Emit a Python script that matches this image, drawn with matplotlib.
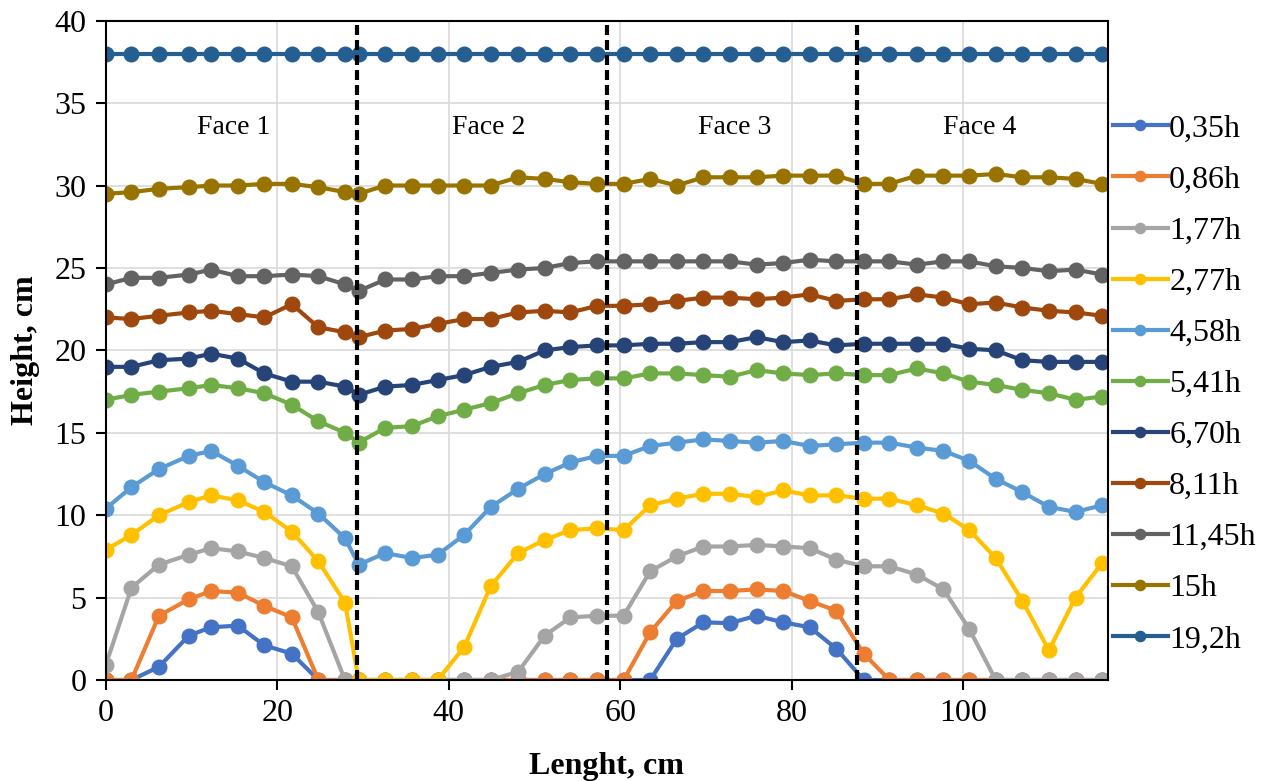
import matplotlib.pyplot as plt

# Positions along the perimeter (cm)
length_cm = [0, 3.0, 6.2, 9.7, 12.3, 15.4, 18.5, 21.7, 24.8, 27.9, 29.5,
             32.6, 35.7, 38.7, 41.8, 44.9, 48.1, 51.2, 54.2, 57.3,
             60.4, 63.5, 66.6, 69.7, 72.8, 75.9, 79.0, 82.1, 85.2,
             88.4, 91.4, 94.6, 97.7, 100.7, 103.8, 106.9, 110.0, 113.1, 116.2]

# Heights (cm) for each time
h_035 = [0, 0, 0.8, 2.7, 3.2, 3.3, 2.1, 1.6, 0, 0, 0,
         0, 0, 0, 0, 0, 0, 0, 0, 0,
         0, 0, 2.5, 3.5, 3.45, 3.9, 3.5, 3.2, 1.9,
         0, 0, 0, 0, 0, 0, 0, 0, 0, 0]
h_086 = [0, 0, 3.9, 4.9, 5.4, 5.3, 4.5, 3.8, 0, 0, 0,
         0, 0, 0, 0, 0, 0, 0, 0, 0,
         0, 2.9, 4.8, 5.4, 5.4, 5.5, 5.4, 4.8, 4.2,
         1.6, 0, 0, 0, 0, 0, 0, 0, 0, 0]
h_177 = [0.9, 5.6, 7.0, 7.6, 8.0, 7.8, 7.4, 6.9, 4.1, 0, 0,
         0, 0, 0, 0, 0, 0.5, 2.7, 3.8, 3.9,
         3.9, 6.6, 7.5, 8.1, 8.1, 8.2, 8.1, 8.0, 7.3,
         6.9, 6.9, 6.4, 5.5, 3.1, 0, 0, 0, 0, 0]
h_277 = [7.9, 8.8, 10.0, 10.8, 11.2, 10.9, 10.2, 9.0, 7.2, 4.7, 0,
         0, 0, 0, 2.0, 5.7, 7.7, 8.5, 9.1, 9.2,
         9.1, 10.6, 11.0, 11.3, 11.3, 11.1, 11.5, 11.2, 11.2,
         11.0, 11.0, 10.6, 10.1, 9.1, 7.4, 4.8, 1.8, 5.0, 7.1]
h_458 = [10.4, 11.7, 12.8, 13.6, 13.9, 13.0, 12.0, 11.2, 10.1, 8.6, 7.0,
         7.7, 7.4, 7.6, 8.8, 10.5, 11.6, 12.5, 13.2, 13.6,
         13.6, 14.2, 14.4, 14.6, 14.5, 14.4, 14.5, 14.2, 14.3,
         14.4, 14.4, 14.1, 13.9, 13.3, 12.2, 11.4, 10.5, 10.2, 10.6]
h_541 = [17.0, 17.3, 17.5, 17.7, 17.9, 17.7, 17.4, 16.7, 15.7, 15.0, 14.4,
         15.3, 15.4, 16.0, 16.4, 16.8, 17.4, 17.9, 18.2, 18.3,
         18.3, 18.6, 18.6, 18.5, 18.4, 18.8, 18.6, 18.5, 18.6,
         18.5, 18.5, 18.9, 18.6, 18.1, 17.9, 17.6, 17.4, 17.0, 17.2]
h_670 = [19.0, 19.0, 19.4, 19.5, 19.8, 19.5, 18.6, 18.1, 18.1, 17.8, 17.3,
         17.8, 17.9, 18.2, 18.5, 19.0, 19.3, 20.0, 20.2, 20.3,
         20.3, 20.4, 20.4, 20.5, 20.5, 20.8, 20.5, 20.6, 20.3,
         20.4, 20.4, 20.4, 20.4, 20.1, 20.0, 19.4, 19.3, 19.3, 19.3]
h_811 = [22.0, 21.9, 22.1, 22.3, 22.4, 22.2, 22.0, 22.8, 21.4, 21.1, 20.8,
         21.2, 21.3, 21.6, 21.9, 21.9, 22.3, 22.4, 22.3, 22.7,
         22.7, 22.8, 23.0, 23.2, 23.2, 23.1, 23.2, 23.4, 23.0,
         23.1, 23.1, 23.4, 23.2, 22.8, 22.9, 22.6, 22.4, 22.3, 22.1]
h_1145 = [24.0, 24.4, 24.4, 24.6, 24.9, 24.5, 24.5, 24.6, 24.5, 24.0, 23.6,
          24.3, 24.3, 24.5, 24.5, 24.7, 24.9, 25.0, 25.3, 25.4,
          25.4, 25.4, 25.4, 25.4, 25.4, 25.2, 25.3, 25.5, 25.4,
          25.4, 25.4, 25.2, 25.4, 25.4, 25.1, 25.0, 24.8, 24.9, 24.6]
h_15 = [29.5, 29.6, 29.8, 29.9, 30.0, 30.0, 30.1, 30.1, 29.9, 29.6, 29.5,
        30.0, 30.0, 30.0, 30.0, 30.0, 30.5, 30.4, 30.2, 30.1,
        30.1, 30.4, 30.0, 30.5, 30.5, 30.5, 30.6, 30.6, 30.6,
        30.1, 30.1, 30.6, 30.6, 30.6, 30.7, 30.5, 30.5, 30.4, 30.1]
h_192 = [38, 38, 38, 38, 38, 38, 38, 38, 38, 38, 38,
         38, 38, 38, 38, 38, 38, 38, 38, 38,
         38, 38, 38, 38, 38, 38, 38, 38, 38,
         38, 38, 38, 38, 38, 38, 38, 38, 38, 38]

series_labels = ['0,35h', '0,86h', '1,77h', '2,77h', '4,58h', '5,41h',
                 '6,70h', '8,11h', '11,45h', '15h', '19,2h']
series_values = [h_035, h_086, h_177, h_277, h_458, h_541,
                 h_670, h_811, h_1145, h_15, h_192]
series_colors = ['#4472C4', '#ED7D31', '#A5A5A5', '#FFC000', '#5B9BD5', '#70AD47',
                 '#264478', '#9E480E', '#636363', '#997300', '#255E91']

# Face boundaries and labels
face_edges = [29.3, 58.5, 87.6]
face_names = ['Face 1', 'Face 2', 'Face 3', 'Face 4']
face_label_x = [14.9, 44.7, 73.4, 101.9]

plt.rcParams['font.family'] = ['Liberation Serif', 'DejaVu Serif']

fig = plt.figure(figsize=(12.68, 7.81), dpi=100)
ax = fig.add_axes([0.0834, 0.1293, 0.7905, 0.8442])

for label, vals, color in zip(series_labels, series_values, series_colors):
    ax.plot(length_cm, vals, color=color, lw=3.0, marker='o', ms=10.5, label=label)

for xe in face_edges:
    ax.axvline(xe, color='black', lw=3, linestyle=(0, (2.4, 1.2)), zorder=10)

for name, xl in zip(face_names, face_label_x):
    ax.text(xl, 33.5, name, ha='center', va='center', fontsize=20)

ax.set_xlim(0, 116.9)
ax.set_ylim(0, 40)
ax.set_xticks(range(0, 101, 20))
ax.set_yticks(range(0, 41, 5))
ax.grid(True, color='#D9D9D9', lw=1.2)
ax.set_axisbelow(True)
for sp in ax.spines.values():
    sp.set_linewidth(1.5)
    sp.set_color('black')
ax.tick_params(axis='both', labelsize=23, direction='out', length=7, width=1.5, pad=7)

ax.set_xlabel('Lenght, cm', fontsize=23, fontweight='bold', labelpad=17)
ax.set_ylabel('Height, cm', fontsize=23, fontweight='bold', labelpad=10)

ax.legend(loc='center left', bbox_to_anchor=(0.878, 0.508), bbox_transform=fig.transFigure,
          frameon=False, fontsize=23, handlelength=1.7, handletextpad=0.05,
          labelspacing=0.68, markerscale=0.7, borderpad=0, borderaxespad=0)

fig.savefig('out.png', dpi=100)
